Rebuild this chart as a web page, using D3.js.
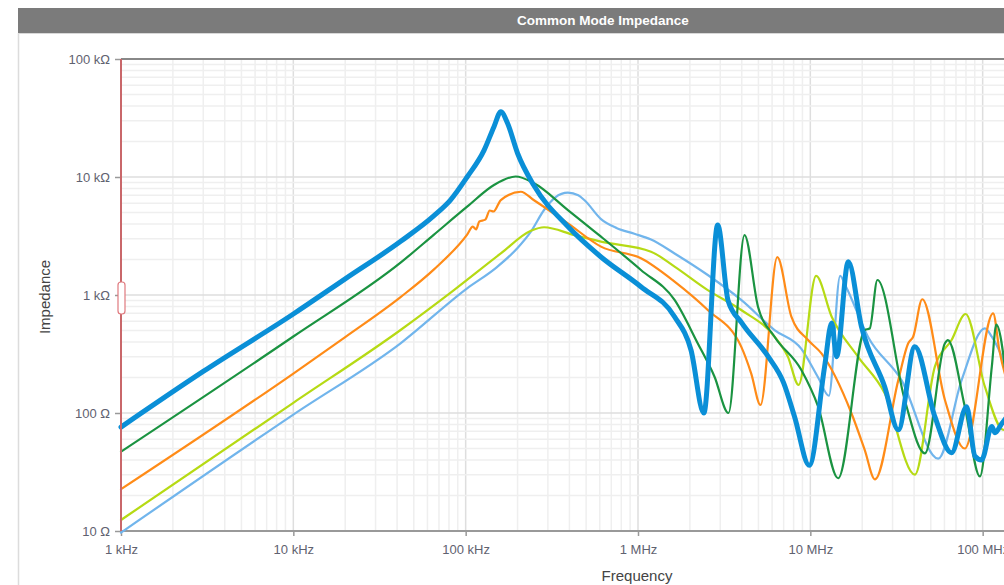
<!DOCTYPE html>
<html>
<head>
<meta charset="utf-8">
<script src="https://cdn.jsdelivr.net/npm/d3@7"></script>
<style>
body { margin: 0; background: #fff; overflow: hidden; }
svg { display: block; }
</style>
</head>
<body>
<svg width="1004" height="585"></svg>
<script>
// [frequency Hz, impedance Ohm]
var lightBlue = [[1e3,9.7],[1e4,97],[4.19e4,390],[1.02e5,1140],[1.5e5,1700],[2e5,2500],[2.39e5,3440],[2.85e5,5250],[3.3e5,6700],[3.92e5,7370],[4.5e5,7000],[4.88e5,6380],[6.1e5,4400],[7.5e5,3700],[9.53e5,3300],[1.19e6,2950],[1.63e6,2250],[2.54e6,1477],[3.97e6,908],[6.2e6,505],[8.87e6,350],[1.11e7,200],[1.28e7,140],[1.49e7,1450],[1.6e7,1200],[2.16e7,443],[3.38e7,190],[5.52e7,41],[7.55e7,190],[1.03e8,522],[1.13e8,443],[1.36e8,247],[1.5e8,160]];
var yellowGreen = [[1e3,12.4],[1e4,122],[4.19e4,505],[8.55e4,1100],[1.6e5,2250],[2.39e5,3500],[2.85e5,3750],[4.27e5,3220],[6.1e5,2830],[1.19e6,2330],[1.63e6,1740],[2.54e6,1100],[3.97e6,746],[6.2e6,443],[7.41e6,300],[8.55e6,173],[1.08e7,1450],[1.33e7,655],[1.89e7,300],[2.7e7,147],[4.04e7,30],[5.28e7,247],[6.6e7,415],[7.96e7,690],[1.03e8,167],[1.32e8,72],[1.5e8,120]];
var orange = [[1e3,22.6],[1e4,216],[2e4,440],[4.19e4,960],[6.55e4,1650],[1.02e5,3250],[1.1e5,3800],[1.15e5,3600],[1.2e5,4200],[1.3e5,4350],[1.38e5,5200],[1.45e5,5100],[1.6e5,6380],[2.09e5,7500],[2.48e5,6380],[3.92e5,4050],[6.1e5,2570],[1.04e6,2050],[1.63e6,1300],[2.54e6,746],[3.97e6,365],[4.54e6,216],[5.14e6,117],[6.43e6,2090],[7.76e6,655],[9.7e6,415],[1.16e7,320],[1.73e7,100],[2.07e7,48.5],[2.37e7,27.4],[3.24e7,190],[3.7e7,390],[3.95e7,443],[4.46e7,920],[6.04e7,129],[7.88e7,50],[1.15e8,700],[1.25e8,340],[1.5e8,130]];
var darkGreen = [[1e3,47],[1e4,445],[4.19e4,1880],[6.55e4,3250],[1.02e5,5600],[1.46e5,8550],[1.95e5,10100],[2.48e5,8900],[3.92e5,5250],[6.1e5,3120],[1.04e6,1630],[1.63e6,908],[2.22e6,390],[2.78e6,203],[3.35e6,100],[4.15e6,3220],[4.97e6,796],[6.2e6,443],[8.87e6,231],[1.11e7,113],[1.45e7,28],[2.07e7,505],[2.21e7,520],[2.45e7,1340],[3.53e7,129],[4.62e7,45.5],[6.04e7,390],[6.28e7,415],[7.88e7,113],[9.64e7,29],[1.13e8,247],[1.2e8,560],[1.4e8,150]];
var blue = [[1e3,76],[3e3,225],[1e4,690],[2e4,1370],[4.2e4,2850],[6.55e4,4700],[8.18e4,6400],[1.02e5,10000],[1.28e5,16900],[1.46e5,26700],[1.6e5,35700],[1.75e5,28500],[2e5,15900],[2.48e5,8550],[3.92e5,3800],[6.1e5,2100],[1.04e6,1175],[1.63e6,655],[2.03e6,342],[2.41e6,100],[2.9e6,3920],[3.33e6,900],[4e6,580],[5.7e6,300],[7e6,180],[8.1e6,93],[9.86e6,36],[1.21e7,247],[1.33e7,580],[1.42e7,300],[1.66e7,1915],[1.98e7,540],[2.7e7,167],[3.24e7,72],[4.04e7,365],[5.28e7,93],[6.6e7,46],[8.07e7,113],[9.02e7,43],[9.86e7,40],[1.13e8,77],[1.18e8,68],[1.28e8,80],[1.4e8,95],[1.5e8,110]];

var xTicks = [1e3, 1e4, 1e5, 1e6, 1e7, 1e8];
var xTickLabels = ["1 kHz", "10 kHz", "100 kHz", "1 MHz", "10 MHz", "100 MHz"];
var yTicks = [10, 100, 1e3, 1e4, 1e5];
var yTickLabels = ["10 \u03a9", "100 \u03a9", "1 k\u03a9", "10 k\u03a9", "100 k\u03a9"];

var svg = d3.select("svg");
var pLeft = 121, pRight = 1155, pTop = 59, pBottom = 531;

var x = d3.scaleLog().domain([1e3, 1e9]).range([pLeft, pRight]);
var y = d3.scaleLog().domain([10, 1e5]).range([pBottom, pTop]);

// panel frame
svg.append("rect").attr("x", 18).attr("y", 8).attr("width", 1200).attr("height", 25).attr("fill", "#7b7b7b");
svg.append("line").attr("x1", 18).attr("x2", 1200).attr("y1", 33.5).attr("y2", 33.5).attr("stroke", "#d8d8d8");
svg.append("line").attr("x1", 18.5).attr("x2", 18.5).attr("y1", 33).attr("y2", 585).attr("stroke", "#dcdcdc").attr("stroke-width", 1.5);
svg.append("text").attr("x", 603).attr("y", 25)
  .attr("text-anchor", "middle").attr("fill", "#fff")
  .style("font-family", "'Liberation Sans', Arial, sans-serif")
  .style("font-weight", "bold").style("font-size", "13.5px")
  .text("Common Mode Impedance");

// grid
var minorX = [], minorY = [];
for (var e = 3; e < 9; e++) for (var m = 1; m < 10; m++) minorX.push(m * Math.pow(10, e));
for (var e2 = 1; e2 < 5; e2++) for (var m2 = 1; m2 < 10; m2++) minorY.push(m2 * Math.pow(10, e2));

var grid = svg.append("g");
grid.selectAll(".vx").data(minorX).enter().append("line")
  .attr("x1", function(d) { return x(d); }).attr("x2", function(d) { return x(d); })
  .attr("y1", pTop).attr("y2", pBottom)
  .attr("stroke", function(d) { return xTicks.indexOf(d) >= 0 ? "#dedede" : "#efefef"; })
  .attr("stroke-width", 1.5);
grid.selectAll(".hy").data(minorY).enter().append("line")
  .attr("x1", pLeft).attr("x2", pRight)
  .attr("y1", function(d) { return y(d); }).attr("y2", function(d) { return y(d); })
  .attr("stroke", function(d) { return yTicks.indexOf(d) >= 0 ? "#dedede" : "#efefef"; })
  .attr("stroke-width", 1.5);

// axes
var xAxis = svg.append("g").attr("transform", "translate(0," + pBottom + ")")
  .call(d3.axisBottom(x).tickValues(xTicks).tickSize(5).tickPadding(9)
    .tickFormat(function(d, i) { return xTickLabels[i]; }));
var yAxis = svg.append("g").attr("transform", "translate(" + pLeft + ",0)")
  .call(d3.axisLeft(y).tickValues(yTicks).tickSize(6).tickPadding(5)
    .tickFormat(function(d, i) { return yTickLabels[i]; }));
[xAxis, yAxis].forEach(function(a) {
  a.select(".domain").remove();
  a.selectAll(".tick line").attr("stroke", "#999").attr("stroke-width", 1.5);
  a.selectAll(".tick text").attr("fill", "#5f6270")
    .style("font-family", "'Liberation Sans', Arial, sans-serif").style("font-size", "13px");
});

svg.append("line").attr("x1", pLeft).attr("x2", pRight).attr("y1", pTop).attr("y2", pTop)
  .attr("stroke", "#888").attr("stroke-width", 2);
svg.append("line").attr("x1", pLeft).attr("x2", pRight).attr("y1", pBottom).attr("y2", pBottom)
  .attr("stroke", "#999").attr("stroke-width", 2);

// series
var line = d3.line()
  .x(function(d) { return x(d[0]); })
  .y(function(d) { return y(d[1]); })
  .curve(d3.curveMonotoneX);

var plot = svg.append("g");
var all = [
  { data: lightBlue, color: "#71b5ec", w: 2.2 },
  { data: yellowGreen, color: "#b6da14", w: 2.2 },
  { data: orange, color: "#ff8b17", w: 2.2 },
  { data: darkGreen, color: "#1a9341", w: 2.2 },
  { data: blue, color: "#0a8fd7", w: 5 }
];
all.forEach(function(s) {
  plot.append("path").datum(s.data)
    .attr("fill", "none").attr("stroke", s.color)
    .attr("stroke-width", s.w).attr("stroke-linejoin", "round").attr("stroke-linecap", "round")
    .attr("d", line);
});

// left axis with handle
svg.append("line").attr("x1", pLeft).attr("x2", pLeft).attr("y1", pTop).attr("y2", pBottom)
  .attr("stroke", "#c9676a").attr("stroke-width", 2);
svg.append("rect").attr("x", 118).attr("y", 282).attr("width", 7).attr("height", 32).attr("rx", 3)
  .attr("fill", "#fff").attr("stroke", "#e07a7f").attr("stroke-width", 1.2);

// axis titles
svg.append("text").attr("x", 637).attr("y", 581).attr("text-anchor", "middle")
  .attr("fill", "#444").style("font-family", "'Liberation Sans', Arial, sans-serif").style("font-size", "15px")
  .text("Frequency");
svg.append("text").attr("transform", "translate(50,297) rotate(-90)").attr("text-anchor", "middle")
  .attr("fill", "#444").style("font-family", "'Liberation Sans', Arial, sans-serif").style("font-size", "15px")
  .text("Impedance");
</script>
</body>
</html>
